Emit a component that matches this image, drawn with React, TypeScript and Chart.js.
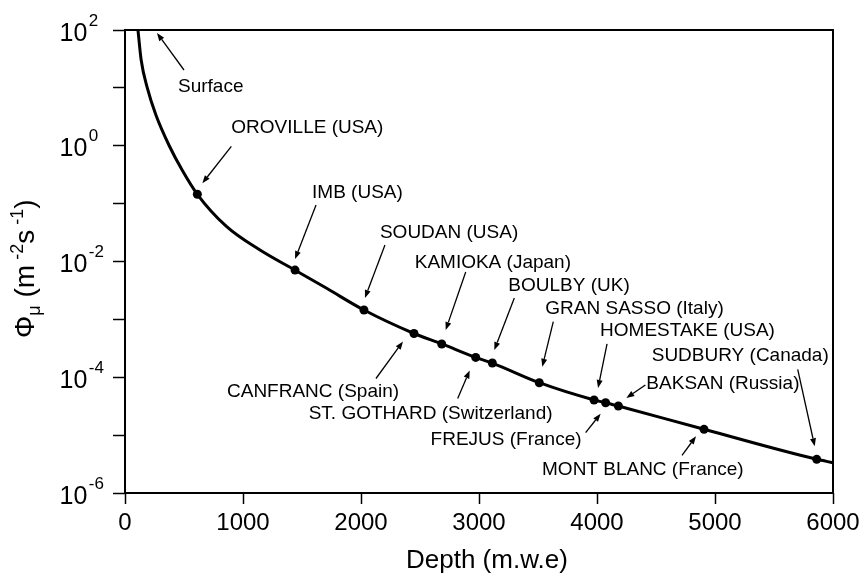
import React, { useEffect, useRef } from "react";
import { Chart, registerables } from "chart.js";

Chart.register(...registerables);

const FONT = "'Liberation Sans', Arial, Helvetica, sans-serif";

// Underground laboratories: depth (m.w.e) and muon flux (m^-2 s^-1)
const siteNames = [
  "OROVILLE (USA)",
  "IMB (USA)",
  "SOUDAN (USA)",
  "CANFRANC (Spain)",
  "KAMIOKA (Japan)",
  "ST. GOTHARD (Switzerland)",
  "BOULBY (UK)",
  "GRAN SASSO (Italy)",
  "HOMESTAKE (USA)",
  "FREJUS (France)",
  "BAKSAN (Russia)",
  "MONT BLANC (France)",
  "SUDBURY (Canada)",
];
const siteDepths = [613, 1441, 2025, 2449, 2684, 2972, 3113, 3511, 3975, 4073, 4181, 4907, 5862];
const siteFlux = [
  0.145, 7.1e-3, 1.45e-3, 5.7e-4, 3.76e-4, 2.2e-4, 1.76e-4, 8.05e-5, 4.05e-5, 3.63e-5,
  3.18e-5, 1.26e-5, 3.82e-6,
];

// Additional points along the flux-versus-depth curve
const curveDepths = [110, 137, 189, 262, 375, 484, 862, 1144, 1709, 6000];
const curveFlux = [100, 30.3, 10, 3.4, 1.0, 0.381, 0.04, 0.0158, 3.44e-3, 3.34e-6];

// Axis ticks
const xTickValues = [0, 1000, 2000, 3000, 4000, 5000, 6000];
const yTickExponents = [-6, -5, -4, -3, -2, -1, 0, 1, 2];
const yLabelExponents = [-6, -4, -2, 0, 2];

// Callout layout, in pixels relative to each marker:
// [labelDx, labelDy(baseline), tailDx, tailDy, headDx, headDy]
const siteCallouts = [
  [34, -61, 34, -48, 5, -11],
  [17, -72, 21, -65, 0, -11],
  [16, -72, 21, -65, 1, -12],
  [-187, 63, -38, 45, -11, 8],
  [-27, -76, 24, -72, 4, -14],
  [-167, 62, -18, 41, -6, 13],
  [16, -72, 22, -65, 2, -13],
  [6, -69, 14, -61, 3, -16],
  [6, -63.5, 13, -56, 4, -12],
  [-175, 42, -20, 30, -5, 11],
  [28, -17, 27, -21, 8, -8],
  [-162, 46, -22, 26, -8, 7],
  [-165, -98, -19, -90, -2, -13],
];
// "Surface" callout, relative to the first curve point
const surfaceCallout = [40, 61.5, 46, 40, 19, 3];

function drawArrow(ctx: CanvasRenderingContext2D, x0: number, y0: number, x1: number, y1: number) {
  const ang = Math.atan2(y1 - y0, x1 - x0);
  const len = 8;
  const hw = 3;
  const bx = x1 - Math.cos(ang) * len;
  const by = y1 - Math.sin(ang) * len;
  ctx.beginPath();
  ctx.moveTo(x0, y0);
  ctx.lineTo(bx, by);
  ctx.lineWidth = 1.3;
  ctx.strokeStyle = "#000";
  ctx.stroke();
  ctx.beginPath();
  ctx.moveTo(x1, y1);
  ctx.lineTo(bx - Math.sin(ang) * hw, by + Math.cos(ang) * hw);
  ctx.lineTo(bx + Math.sin(ang) * hw, by - Math.cos(ang) * hw);
  ctx.closePath();
  ctx.fillStyle = "#000";
  ctx.fill();
}

const decorations = {
  id: "decorations",
  afterDraw(chart: any) {
    const ctx: CanvasRenderingContext2D = chart.ctx;
    const { left, right, top, bottom } = chart.chartArea;
    const xs = chart.scales.x;
    const ys = chart.scales.y;
    ctx.save();

    // frame
    ctx.strokeStyle = "#000";
    ctx.lineWidth = 2;
    ctx.strokeRect(left, top, right - left, bottom - top);

    ctx.fillStyle = "#000";
    ctx.textBaseline = "alphabetic";

    // x tick labels
    ctx.font = `24px ${FONT}`;
    ctx.textAlign = "center";
    xTickValues.forEach((v) => {
      ctx.fillText(String(v), xs.getPixelForValue(v), 530);
    });

    // y tick labels, 10 with exponent
    ctx.textAlign = "left";
    yLabelExponents.forEach((e) => {
      const py = ys.getPixelForValue(Math.pow(10, e));
      ctx.font = `25px ${FONT}`;
      ctx.fillText("10", 59.5, py + 10.5);
      const w = ctx.measureText("10").width;
      ctx.font = `17px ${FONT}`;
      ctx.fillText(String(e), 59.5 + w + 1.5, py - 4.5);
    });

    // x axis title
    ctx.font = `26px ${FONT}`;
    ctx.fillText("Depth (m.w.e)", 406, 568);

    // y axis title (rotated)
    ctx.save();
    ctx.translate(34, 338);
    ctx.rotate(-Math.PI / 2);
    let cx = 0;
    const big = `28px ${FONT}`;
    const small = `18px ${FONT}`;
    ctx.font = big;
    ctx.fillText("\u03A6", cx, 0);
    cx += ctx.measureText("\u03A6").width;
    ctx.font = small;
    ctx.fillText("\u03BC", cx, 6);
    cx += ctx.measureText("\u03BC").width;
    ctx.font = big;
    ctx.fillText(" (m", cx, 0);
    cx += ctx.measureText(" (m").width + 5;
    ctx.font = small;
    ctx.fillText("-2", cx, -11);
    cx += ctx.measureText("-2").width;
    ctx.font = big;
    ctx.fillText("s", cx, 0);
    cx += ctx.measureText("s").width + 5;
    ctx.font = small;
    ctx.fillText("-1", cx, -11);
    cx += ctx.measureText("-1").width;
    ctx.font = big;
    ctx.fillText(")", cx, 0);
    ctx.restore();

    // callouts
    ctx.font = `19px ${FONT}`;
    ctx.textAlign = "left";
    siteNames.forEach((name, i) => {
      const px = xs.getPixelForValue(siteDepths[i]);
      const py = ys.getPixelForValue(siteFlux[i]);
      const c = siteCallouts[i];
      ctx.fillStyle = "#000";
      ctx.fillText(name, px + c[0], py + c[1]);
      drawArrow(ctx, px + c[2], py + c[3], px + c[4], py + c[5]);
    });
    const sx = xs.getPixelForValue(curveDepths[0]);
    const sy = ys.getPixelForValue(curveFlux[0]);
    const s = surfaceCallout;
    ctx.fillStyle = "#000";
    ctx.fillText("Surface", sx + s[0], sy + s[1]);
    drawArrow(ctx, sx + s[2], sy + s[3], sx + s[4], sy + s[5]);

    ctx.restore();
  },
};

export default function App() {
  const ref = useRef<HTMLCanvasElement | null>(null);

  useEffect(() => {
    if (!ref.current) return;
    const curve = curveDepths
      .map((d, i) => ({ x: d, y: curveFlux[i] }))
      .concat(siteDepths.map((d, i) => ({ x: d, y: siteFlux[i] })))
      .sort((a, b) => a.x - b.x);
    const sites = siteDepths.map((d, i) => ({ x: d, y: siteFlux[i] }));

    const chart = new Chart(ref.current, {
      type: "line",
      data: {
        datasets: [
          {
            data: sites,
            showLine: false,
            pointRadius: 4.5,
            pointBackgroundColor: "#000",
            pointBorderWidth: 0,
            borderColor: "#000",
          },
          {
            data: curve,
            borderColor: "#000",
            borderWidth: 3,
            pointRadius: 0,
            cubicInterpolationMode: "monotone",
            fill: false,
          },
        ],
      },
      options: {
        responsive: false,
        animation: false,
        devicePixelRatio: 1,
        layout: { padding: { left: 0, top: 30, right: 26, bottom: 0 } },
        plugins: { legend: { display: false }, tooltip: { enabled: false }, title: { display: false } },
        scales: {
          x: {
            type: "linear",
            min: 0,
            max: 6000,
            ticks: { display: false, stepSize: 1000 },
            afterBuildTicks: (scale: any) => {
              scale.ticks = xTickValues.map((v) => ({ value: v }));
            },
            afterFit: (scale: any) => {
              scale.height = 83;
            },
            border: { display: false },
            grid: {
              display: true,
              drawOnChartArea: false,
              drawTicks: true,
              tickLength: 11,
              tickWidth: 1.5,
              tickColor: "#000",
            },
          },
          y: {
            type: "logarithmic",
            min: 1e-6,
            max: 100,
            ticks: { display: false },
            afterBuildTicks: (scale: any) => {
              scale.ticks = yTickExponents.map((e) => ({ value: Math.pow(10, e) }));
            },
            afterFit: (scale: any) => {
              scale.width = 125;
            },
            border: { display: false },
            grid: {
              display: true,
              drawOnChartArea: false,
              drawTicks: true,
              tickLength: 12,
              tickWidth: 1.5,
              tickColor: "#000",
            },
          },
        },
      },
      plugins: [decorations],
    } as any);
    return () => chart.destroy();
  }, []);

  return (
    <div style={{ position: "fixed", left: 0, top: 0, width: 859, height: 576, background: "#fff" }}>
      <canvas ref={ref} width={859} height={576} />
    </div>
  );
}
